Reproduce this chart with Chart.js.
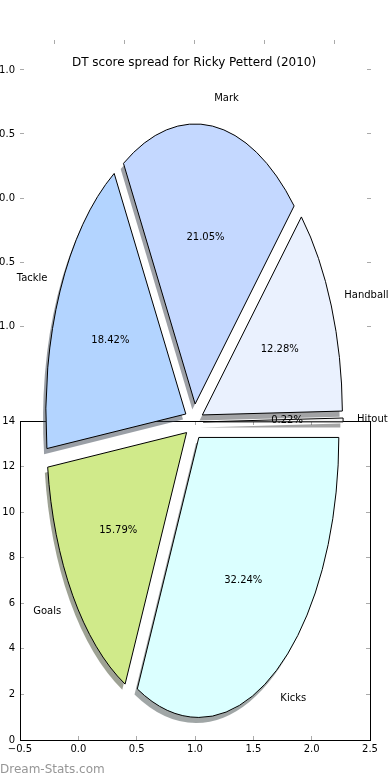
<!DOCTYPE html>
<html>
<head>
<meta charset="utf-8">
<script src="https://cdn.jsdelivr.net/npm/chart.js@4.4.0/dist/chart.umd.min.js"></script>
<style>
html, body { margin: 0; padding: 0; width: 390px; height: 780px; overflow: hidden; background: #fff; }
canvas { position: absolute; }
#topAxes { left: -40px; top: 0px; }
#bottomAxes { left: -40px; top: 400px; }
#pieChart { left: 0px; top: 0px; }
#watermark { position: absolute; left: 0px; top: 762px; font: 12px "DejaVu Sans"; color: #969696; }
</style>
</head>
<body>
<canvas id="topAxes" width="431" height="400"></canvas>
<canvas id="bottomAxes" width="430" height="380"></canvas>
<canvas id="pieChart" width="390" height="780"></canvas>
<div id="watermark">Dream-Stats.com</div>
<script>
// slices, clockwise from 3 o'clock
const categories = ["Kicks", "Goals", "Tackle", "Mark", "Handball", "Hitout"];
const shares = [32.24, 15.79, 18.42, 21.05, 12.28, 0.22];
const sliceColors = ["#dbffff", "#d0ea8a", "#b3d4ff", "#c4d8ff", "#eaf1fe", "#f5f5f5"];

// the two stray axes behind the pie
const topTicks = [-1.0, -0.5, 0.0, 0.5, 1.0];
const bottomXTicks = [-0.5, 0.0, 0.5, 1.0, 1.5, 2.0, 2.5];
const bottomYTicks = [0, 2, 4, 6, 8, 10, 12, 14];

const titleText = "DT score spread for Ricky Petterd (2010)";

const STRETCH = 2.0;     // pie is drawn squashed like matplotlib without equal aspect
const EXPLODE = 0.065;
const SHADOW = 0.02;
const tickGray = "#aaaaaa";

Chart.defaults.font.family = "DejaVu Sans";
Chart.defaults.font.size = 10;
Chart.defaults.color = "#000";

function fmt(v, decimals) {
    const s = Math.abs(v).toFixed(decimals);
    return v < 0 ? "\u2212" + s : s;
}

function fixedTicks(list) {
    return axis => { axis.ticks = list.map(v => ({ value: v })); };
}

function tickAxis(position, min, max, list, size, showLabels, border, decimals) {
    return {
        type: "linear",
        position: position,
        min: min,
        max: max,
        afterBuildTicks: fixedTicks(list),
        afterFit: axis => {
            if (position === "left" || position === "right") axis.width = size;
            else axis.height = size;
        },
        ticks: {
            display: showLabels,
            autoSkip: false,
            maxRotation: 0,
            padding: position === "bottom" ? 7 : 9,
            callback: v => fmt(v, decimals)
        },
        grid: { drawOnChartArea: false, drawTicks: true, tickLength: -4, color: tickGray },
        border: { display: border, color: "#000", width: 1 }
    };
}

new Chart(document.getElementById("topAxes"), {
    type: "scatter",
    data: { datasets: [] },
    options: {
        responsive: false,
        animation: false,
        events: [],
        devicePixelRatio: 1,
        layout: { padding: { bottom: 44 } },
        plugins: { legend: { display: false }, tooltip: { enabled: false } },
        scales: {
            x: tickAxis("top", -1.243, 1.264, topTicks, 40, false, false, 1),
            y: tickAxis("left", -1.234, 1.234, topTicks, 60, true, false, 1),
            y2: tickAxis("right", -1.234, 1.234, topTicks, 20, false, false, 1)
        }
    }
});

new Chart(document.getElementById("bottomAxes"), {
    type: "scatter",
    data: { datasets: [] },
    options: {
        responsive: false,
        animation: false,
        events: [],
        devicePixelRatio: 1,
        plugins: { legend: { display: false }, tooltip: { enabled: false } },
        scales: {
            x: tickAxis("bottom", -0.5, 2.5, bottomXTicks, 40, true, true, 1),
            x2: tickAxis("top", -0.5, 2.5, bottomXTicks, 21, false, true, 1),
            y: tickAxis("left", 0, 14, bottomYTicks, 60, true, true, 0),
            y2: tickAxis("right", 0, 14, bottomYTicks, 20, false, true, 0)
        }
    }
});

function slicePath(ctx, arc, dx, dy) {
    const p = arc.getProps(["x", "y", "startAngle", "endAngle", "outerRadius"], true);
    const mid = (p.startAngle + p.endAngle) / 2;
    const r = p.outerRadius;
    const ex = p.x + Math.cos(mid) * EXPLODE * r + dx * r;
    const ey = p.y + Math.sin(mid) * EXPLODE * r + dy * r;
    ctx.save();
    ctx.translate(p.x, p.y);
    ctx.scale(1, STRETCH);
    ctx.translate(-p.x, -p.y);
    ctx.beginPath();
    ctx.moveTo(ex, ey);
    ctx.arc(ex, ey, r, p.startAngle, p.endAngle);
    ctx.closePath();
    ctx.restore();
}

function shadowColor(hex) {
    const n = parseInt(hex.slice(1), 16);
    const r = Math.round(((n >> 16) & 255) * 0.3);
    const g = Math.round(((n >> 8) & 255) * 0.3);
    const b = Math.round((n & 255) * 0.3);
    return "rgba(" + r + "," + g + "," + b + ",0.5)";
}

const squashedPie = {
    id: "squashedPie",
    beforeDatasetsDraw(chart) {
        const ctx = chart.ctx;
        const arcs = chart.getDatasetMeta(0).data;
        arcs.forEach(arc => {
            slicePath(ctx, arc, -SHADOW, SHADOW);
            ctx.fillStyle = shadowColor(arc.options.backgroundColor);
            ctx.fill();
        });
        arcs.forEach(arc => {
            slicePath(ctx, arc, 0, 0);
            ctx.fillStyle = arc.options.backgroundColor;
            ctx.fill();
            ctx.lineWidth = 1;
            ctx.strokeStyle = "#000";
            ctx.stroke();
        });
        return false;
    },
    afterDraw(chart) {
        const ctx = chart.ctx;
        const arcs = chart.getDatasetMeta(0).data;
        ctx.save();
        ctx.font = "10px 'DejaVu Sans'";
        ctx.fillStyle = "#000";
        ctx.textBaseline = "middle";
        arcs.forEach((arc, i) => {
            const p = arc.getProps(["x", "y", "startAngle", "endAngle", "outerRadius"], true);
            const mid = (p.startAngle + p.endAngle) / 2;
            const r = p.outerRadius;
            const c = Math.cos(mid), s = Math.sin(mid);
            ctx.textAlign = c > 0 ? "left" : "right";
            ctx.fillText(categories[i], p.x + c * (EXPLODE + 1.1) * r, p.y + s * (EXPLODE + 1.1) * r * STRETCH);
            ctx.textAlign = "center";
            ctx.fillText(shares[i].toFixed(2) + "%", p.x + c * (EXPLODE + 0.6) * r, p.y + s * (EXPLODE + 0.6) * r * STRETCH);
        });
        ctx.restore();
    }
};

new Chart(document.getElementById("pieChart"), {
    type: "pie",
    data: {
        labels: categories,
        datasets: [{
            data: shares,
            backgroundColor: sliceColors,
            borderColor: "#000",
            borderWidth: 1,
            radius: 140
        }]
    },
    options: {
        responsive: false,
        animation: false,
        events: [],
        devicePixelRatio: 1,
        rotation: 90,
        layout: { padding: { left: 0, right: 2, top: 0, bottom: 6.4 } },
        plugins: {
            legend: { display: false },
            tooltip: { enabled: false },
            title: {
                display: true,
                text: titleText,
                color: "#000",
                font: { size: 12, weight: "normal" },
                padding: { top: 56, bottom: 0 }
            }
        }
    },
    plugins: [squashedPie]
});
</script>
</body>
</html>
